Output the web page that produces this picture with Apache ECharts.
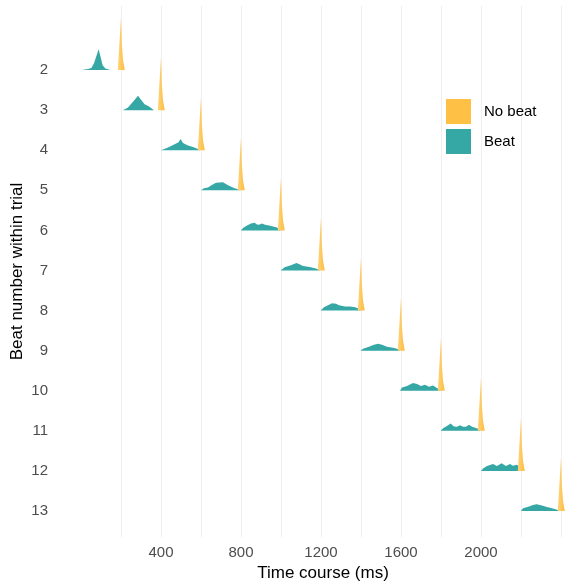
<!DOCTYPE html>
<html><head><meta charset="utf-8">
<script src="https://cdn.jsdelivr.net/npm/echarts@6/dist/echarts.min.js"></script>
<style>html,body{margin:0;padding:0;background:#fff}#c{width:565px;height:583px}</style>
</head><body><div id="c"></div>
<script>
// Beat number within trial (y categories, top to bottom)
const rows = [2, 3, 4, 5, 6, 7, 8, 9, 10, 11, 12, 13];
// x tick labels (ms)
const xTickLabels = [400, 800, 1200, 1600, 2000];

// "Beat" density ridges: [time ms, height in row units]
const beat2  = [[5,0],[35,0.025],[52,0.05],[65,0.17],[77,0.35],[88,0.52],[98,0.33],[108,0.12],[122,0.04],[147,0]];
const beat3  = [[210,0],[235,0.07],[260,0.21],[285,0.36],[302,0.25],[318,0.15],[338,0.1],[352,0.05],[365,0]];
const beat4  = [[400,0],[435,0.07],[468,0.15],[488,0.2],[498,0.28],[510,0.18],[535,0.12],[560,0.08],[585,0.03],[598,0]];
const beat5  = [[600,0],[615,0.05],[635,0.07],[650,0.12],[675,0.19],[710,0.2],[735,0.13],[768,0.05],[793,0.015],[800,0]];
const beat6  = [[800,0],[810,0.06],[830,0.12],[850,0.17],[868,0.19],[880,0.15],[890,0.14],[905,0.17],[920,0.14],[940,0.12],[960,0.1],[980,0.07],[992,0.03],[1000,0]];
const beat7  = [[998,0],[1018,0.08],[1050,0.13],[1077,0.185],[1095,0.15],[1110,0.11],[1143,0.09],[1175,0.05],[1198,0]];
const beat8  = [[1198,0],[1215,0.08],[1235,0.13],[1255,0.18],[1275,0.17],[1290,0.13],[1320,0.1],[1345,0.1],[1370,0.08],[1388,0.05],[1402,0]];
const beat9  = [[1398,0],[1410,0.05],[1440,0.1],[1465,0.15],[1485,0.17],[1505,0.15],[1530,0.1],[1560,0.075],[1585,0.04],[1598,0]];
const beat10 = [[1595,0],[1605,0.08],[1630,0.12],[1660,0.19],[1680,0.17],[1700,0.12],[1720,0.15],[1740,0.1],[1760,0.13],[1780,0.07],[1802,0]];
const beat11 = [[1798,0],[1812,0.07],[1830,0.12],[1848,0.185],[1865,0.11],[1880,0.1],[1895,0.14],[1910,0.1],[1925,0.1],[1940,0.15],[1955,0.1],[1975,0.07],[1990,0.04],[2000,0]];
const beat12 = [[2000,0],[2010,0.06],[2030,0.12],[2060,0.17],[2080,0.12],[2103,0.19],[2125,0.12],[2145,0.17],[2160,0.13],[2178,0.15],[2195,0.1],[2203,0]];
const beat13 = [[2200,0],[2210,0.07],[2240,0.11],[2260,0.15],[2278,0.17],[2300,0.14],[2330,0.1],[2360,0.06],[2385,0.025],[2395,0]];
const beatShapes = [beat2, beat3, beat4, beat5, beat6, beat7, beat8, beat9, beat10, beat11, beat12, beat13];

// "No beat" spikes: centre time (ms), peak height (row units), shape
const noBeatCenters = [200, 400, 600, 800, 1000, 1200, 1400, 1600, 1800, 2000, 2200, 2400];
const noBeatHeights = [1.32, 1.32, 1.32, 1.32, 1.32, 1.32, 1.32, 1.32, 1.32, 1.32, 1.32, 1.32];
const noBeatOffsets = [-16, -8, 0, 4, 10, 19];
const noBeatProfile = [0, 0.5, 1, 0.5, 0.19, 0];

const BEAT_COLOR = '#35A7A5';
const NOBEAT_COLOR = '#FFC145';
const NOBEAT_FILL = {
  type: 'linear', x: 0, y: 0, x2: 1, y2: 0,
  colorStops: [{offset: 0, color: '#FFD37C'}, {offset: 1, color: '#FDBC3C'}]
};

const chart = echarts.init(document.getElementById('c'), null, {renderer: 'canvas'});

function beatPoints(i) { return beatShapes[i]; }
function noBeatPoints(i) {
  return noBeatOffsets.map((o, k) => [noBeatCenters[i] + o, noBeatHeights[i] * noBeatProfile[k]]);
}
function ridge(pointsFor, fill) {
  return function (params, api) {
    const i = params.dataIndex;
    const row = api.value(1);
    const pts = pointsFor(i).map(p => api.coord([p[0], row - p[1]]));
    return {type: 'polygon', shape: {points: pts}, style: {fill: fill}};
  };
}

const gridColors = [];
for (let k = 0; k < 14; k++) gridColors.push(k === 0 || k === 13 ? 'rgba(0,0,0,0)' : '#EFEFEF');

chart.setOption({
  animation: false,
  backgroundColor: '#fff',
  grid: {left: 81, right: 0, top: 6, bottom: 46, containLabel: false, outerBoundsMode: 'none'},
  legend: {
    orient: 'vertical', left: 446, top: 99, padding: 0,
    itemWidth: 25, itemHeight: 25, itemGap: 5, icon: 'rect',
    data: ['No beat', 'Beat'],
    textStyle: {fontSize: 15, color: '#000', fontFamily: 'Liberation Sans', padding: [0, 0, 0, 8]}
  },
  xAxis: {
    type: 'value', min: 0, max: 2420, interval: 200,
    name: 'Time course (ms)', nameLocation: 'middle', nameGap: 26,
    nameTextStyle: {fontSize: 17, color: '#000', fontFamily: 'Liberation Sans'},
    axisLine: {show: false}, axisTick: {show: false},
    axisLabel: {
      fontSize: 15, color: '#4D4D4D', fontFamily: 'Liberation Sans', margin: 8,
      formatter: v => xTickLabels.indexOf(v) >= 0 ? String(v) : ''
    },
    splitLine: {show: true, lineStyle: {color: gridColors, width: 1}}
  },
  yAxis: {
    type: 'value', inverse: true, min: 0.4, max: 13.65,
    name: 'Beat number within trial', nameLocation: 'middle', nameGap: 55, nameMoveOverlap: false,
    nameTextStyle: {fontSize: 17, color: '#000', fontFamily: 'Liberation Sans'},
    axisLine: {show: false}, axisTick: {show: false}, splitLine: {show: false},
    axisLabel: {
      customValues: rows, fontSize: 15, color: '#4D4D4D', fontFamily: 'Liberation Sans', margin: 33
    }
  },
  series: [
    {
      name: 'Beat', type: 'custom', itemStyle: {color: BEAT_COLOR},
      renderItem: ridge(beatPoints, BEAT_COLOR),
      encode: {x: 0, y: 1}, clip: false,
      data: rows.map((r, i) => [beatShapes[i][0][0], r])
    },
    {
      name: 'No beat', type: 'custom', itemStyle: {color: NOBEAT_COLOR},
      renderItem: ridge(noBeatPoints, NOBEAT_FILL),
      encode: {x: 0, y: 1}, clip: false,
      data: rows.map((r, i) => [noBeatCenters[i], r])
    }
  ]
});
</script></body></html>
